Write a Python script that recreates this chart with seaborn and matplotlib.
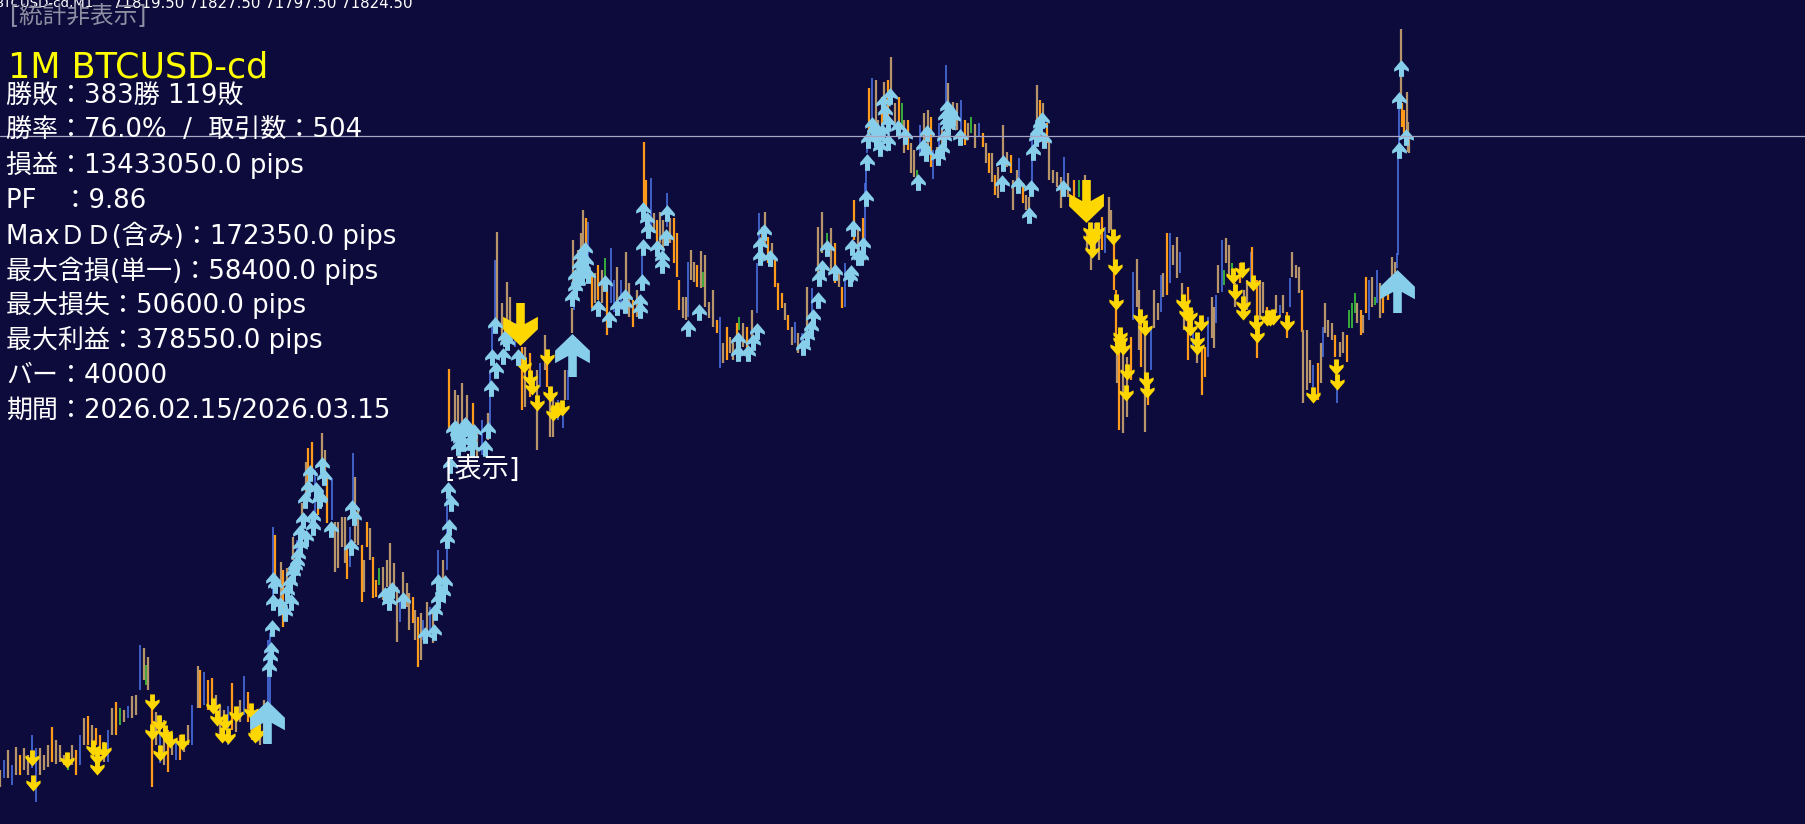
import pandas as pd
import matplotlib
matplotlib.use("Agg")
import matplotlib.pyplot as plt
from matplotlib.path import Path
import seaborn as sns

BAR_X = [0,4,8,12,16,20,24,28,32,36, 40,44,48,52,56,60,64,68,72,76,
 80,84,88,92,96,100,104,108,112,116, 120,124,128,132,136,140,144,146,148,152,
 156,160,164,168,172,176,180,184,188,192, 198,200,204,208,212,216,220,224,228,232,
 236,240,244,248,252,256,260,264,268,270, 273,275,281,283,287,293,297,302,306,308,
 312,315,318,322,325,327,332,335,338,342, 345,347,350,353,355,358,362,364,367,370,
 373,376,379,383,387,390,394,397,400,403, 407,409,413,415,418,421,423,427,430,433,
 438,443,447,449,455,458,462,467,473,477, 482,488,490,492,495,497,502,505,507,510,
 515,520,522,525,530,537,540,545,547,550, 553,558,563,565,568,572,574,573,578,581,
 583,586,588,592,595,598,602,605,607,611, 614,617,621,626,629,633,637,642,644,646,
 651,654,657,660,663,667,670,674,677,679, 683,686,688,691,694,697,701,703,705,709,
 713,717,720,723,727,730,733,737,739,743, 747,752,757,759,762,765,768,772,775,778,
 782,785,788,792,795,798,802,807,812,818, 822,827,831,835,839,842,845,850,854,858,
 863,865,866,867,869,872,876,878,882,884, 888,891,895,899,902,904,908,911,914,917,
 920,924,928,931,933,937,939,942,946,948, 953,957,961,965,968,971,975,979,983,986,
 989,992,995,998,1003,1007,1011,1013,1017,1019, 1023,1026,1029,1032,1037,1040,1043,1047,1049,1053,
 1057,1061,1064,1068,1074,1079,1085,1087,1091,1095, 1099,1102,1105,1109,1111,1114,1116,1117,1119,1123,
 1127,1131,1133,1137,1139,1141,1145,1148,1151,1154, 1158,1161,1163,1167,1170,1173,1177,1180,1182,1184,
 1188,1193,1197,1202,1205,1208,1212,1214,1216,1218, 1222,1224,1226,1229,1232,1235,1240,1244,1247,1251,
 1252,1257,1260,1263,1267,1272,1276,1280,1283,1287, 1290,1292,1296,1299,1302,1303,1307,1310,1313,1318,
 1321,1323,1325,1328,1332,1335,1337,1340,1343,1347, 1349,1352,1355,1357,1361,1363,1366,1369,1372,1375,
 1377,1380,1383,1388,1392,1395,1397,1398,1399,1401, 1402,1404,1407,1408,1409]

BAR_HIGH = [65480,65580,65680,65530,65710,65630,65700,65630,65830,65700,
 65700,65630,65730,65910,65780,65730,65630,65530,65730,65680,
 65830,66000,66020,65930,65900,65830,65760,65880,66100,66160,
 66100,66080,66120,66220,66230,66730,66700,66530,66610,66130,
 66060,66030,65980,65880,65830,65780,65830,65800,65930,66130,
 66520,66480,66460,66380,66400,66230,66130,66080,66120,66350,
 66080,66180,66420,66260,66130,66060,66000,66180,66780,66850,
 67910,67830,67560,67480,67500,67810,67780,68150,68560,68700,
 68760,68480,68280,68850,68680,68400,68400,67960,67960,68010,
 68010,67710,67910,68650,68410,68080,67730,67580,67960,67900,
 67610,67380,67500,67510,67580,67750,67550,67310,67180,67460,
 67350,67250,67210,67080,67010,67050,66980,67160,67110,67080,
 67680,67580,68310,69490,69280,69230,69350,69230,69150,68850,
 68980,69050,69450,69910,70580,70860,70150,69980,70360,70210,
 69950,69650,69710,69710,69650,69480,69550,69830,69580,69280,
 69210,69180,69150,69480,69480,70100,70330,70780,70680,70850,
 71080,71000,70960,70450,70450,70530,70480,70600,70310,70700,
 70380,70510,70380,70660,70350,70180,70280,70650,71760,71380,
 71400,71050,70980,71060,70980,71250,71000,71000,70850,70380,
 70210,70210,70560,70680,70560,70530,70670,70460,70630,70160,
 70280,69980,70010,69750,69910,69810,69750,69950,70010,69950,
 69910,70080,70550,71050,70910,71060,70810,70750,70580,70350,
 70250,70150,70030,69910,69960,69850,69850,70310,70300,70910,
 71060,70850,70900,70750,70450,70310,70550,70480,71180,70910,
 71000,71350,71610,71810,72300,72400,72380,71980,72210,72360,
 72380,72610,72150,72210,72150,71980,71980,71750,71680,71480,
 71930,72050,72080,72010,71680,71710,71950,71900,72530,72350,
 72160,72150,72180,71980,71950,72010,71940,71950,71850,71750,
 71650,71650,71430,71510,71930,71660,71630,71380,71480,71600,
 71350,71230,71210,71780,72330,72180,72150,71950,71780,71480,
 71460,71410,71610,71450,71380,71380,71430,70880,70780,70950,
 70950,71010,70910,71210,71080,70780,70280,69750,69680,69810,
 69610,69810,70460,70590,70280,70050,69910,69410,69910,70280,
 70150,70430,70450,70850,70850,70730,70810,70660,70350,70180,
 70310,69850,69810,69710,69710,70010,70210,70110,70230,70530,
 70780,70480,70800,70730,70550,70350,70550,70280,70380,70660,
 70710,70380,70380,70360,70110,70050,70230,70130,70230,70060,
 70400,70660,70530,70510,70280,69880,69880,69580,69530,69550,
 69750,69910,70150,69980,69950,69830,69580,69760,69860,69830,
 70080,70150,70250,70150,70080,70030,70410,70380,70410,70210,
 70480,70350,70250,70280,70610,70560,70650,71610,72180,72890,
 72150,72080,72260,71960,71850]

BAR_LOW = [65310,65400,65400,65330,65430,65430,65480,65430,65500,65160,
 65430,65480,65510,65560,65540,65560,65530,65480,65530,65430,
 65530,65730,65730,65700,65730,65630,65560,65560,65830,65830,
 65930,65960,66000,66000,66030,66280,66380,66330,66280,65310,
 65730,65550,65530,65460,65630,65580,65580,65660,65730,65730,
 66100,66100,66130,66080,66060,65960,65830,65780,65730,65880,
 65860,65960,66030,65960,65780,65760,65730,65750,66080,66130,
 67080,67410,67080,66910,67180,67580,67600,67730,68110,68280,
 68380,68050,68030,68480,68450,67950,67980,67460,67500,67710,
 67550,67390,67510,67980,67750,67730,67160,67260,67710,67580,
 67200,67210,67330,67180,67310,67210,67250,66760,66960,67180,
 67110,66880,66950,66780,66510,66580,66780,66850,66880,66750,
 67380,67350,67480,68880,68810,68750,68810,68880,68710,68610,
 68630,68780,68880,69550,69880,69910,69750,69710,69780,69780,
 69710,69510,69080,69110,69210,68680,69310,69480,69310,68810,
 68810,68980,68900,69180,69180,69850,70080,70330,70280,70480,
 70480,70530,70480,70100,70150,70180,70150,70410,69830,70150,
 70060,70150,70080,70150,70010,69910,70010,70280,71110,71080,
 70880,70850,70750,70750,70680,70910,70750,70550,70410,70080,
 70000,69980,70010,70380,70360,70310,70300,70310,70110,70000,
 69910,69850,69500,69550,69580,69650,69580,69710,69880,69710,
 69610,69750,70050,70650,70610,70750,70550,70510,70310,70080,
 70100,69980,69880,69730,69750,69650,69680,69850,70050,70450,
 70650,70610,70480,70350,70310,70100,70110,70310,70780,70650,
 70550,70710,71180,71650,71810,71850,71950,71780,71810,71980,
 72010,72150,71950,71810,71910,71650,71680,71450,71410,71350,
 71630,71680,71710,71510,71390,71550,71550,71680,72010,71980,
 71880,71880,71810,71730,71780,71850,71700,71810,71710,71550,
 71450,71360,71230,71200,71510,71510,71450,71080,71280,71380,
 71150,71080,71080,71350,71880,71950,71950,71750,71380,71350,
 71310,71100,71310,71210,71180,71210,71350,70680,70480,70680,
 70580,70680,70650,70850,70880,70280,69730,69350,68880,68850,
 69010,69380,69980,70110,69680,69510,68860,69130,69480,69900,
 69980,70060,70210,70230,70350,70530,70400,70450,70180,69880,
 69580,69710,69550,69230,69410,69610,69800,69700,69950,70250,
 70260,70330,70550,70410,70380,70110,70350,70010,70080,70310,
 70350,69600,69980,70050,70010,69980,70050,70010,70050,69800,
 70110,70410,70400,70250,69860,69150,69280,69350,69280,69180,
 69350,69610,69850,69810,69780,69610,69150,69610,69650,69560,
 69900,69900,70050,69950,69830,69850,70050,69980,70110,70130,
 70150,70000,70050,70180,70310,70450,70500,70630,71650,72180,
 71910,71850,71850,71660,71650]

# bar colour class: t mixed, b blue, o orange, g green
BAR_KIND = "".join("""
tbtbt ottbb  tttot ttgto  btoto otbto  gtbtt btgto  tbtot bottb
tobo ottt bo  ttboo tttbb  botot tbtto  obott obttt  tobbt totot
oogtt tttbt  ttoto tbtbt  btbot tttot  btbbb ttott  btoto tbtot
tbbtb tbttt  tobot otgob  btbtt otboo  btott btooo  ttbtt otgtt
tobto ttogt  otbbt totoo  ototb tbtbt  tgtot obtot  obbbo bttot
ottog totTg  bttob tbtbt  ttbot gtbot  otott totTb  ottbt ototT
ttbto gtttt  tobtt ootot  tobtt otobt  tbtob ttbtt  obtoo bttbt
bgttg tottb  oottO ttbto  btttO tttbO  tbttt obtto  gggto tobtg
btoot tbbbt  oottt
""".lower().split())

UP_X = [269,270,271,272,273,273,275,280,285,291,287,290,293,295,297,300,303,305,308,310,313,313,319,322,324,331,
 351,352,354,385,389,392,403,425,434,435,438,443,438,445,442,447,449,451,448,450,457,460,467,470,472,458,463,453,458,465,
 485,488,491,496,492,495,503,507,518,505,
 575,575,582,583,580,585,588,598,605,609,617,625,625,640,640,642,643,643,647,648,657,662,662,666,667,688,699,
 738,738,748,753,757,760,764,760,770,803,807,811,813,818,819,822,827,835,850,852,853,858,
 851,861,863,866,867,868,872,880,878,888,883,890,885,888,898,905,918,923,926,927,938,942,944,947,945,953,948,960,
 1003,1002,1018,1031,1029,1033,1037,1040,1063,1399,1406,1399,1401,
 462,455,470,474,578,572,579,586,874,876,882,947,950,1036,1042,1044,298,300,306,316,320]
UP_Y = [66500,66600,66680,66900,67160,67380,67330,67130,67050,67160,67260,67350,67450,67510,67550,67850,67980,68180,68300,68450,67910,68000,68180,68530,68410,67890,
 67710,68100,68010,67230,67160,67280,67180,66830,66860,67060,67180,67250,67360,67350,67260,67780,67910,68150,68280,68530,68850,68780,68910,68830,68700,68710,68750,68880,68800,68930,
 68700,68880,69300,69480,69610,69930,69620,69760,69610,69800,
 70300,70410,70410,70510,70610,70680,70430,70100,70350,69990,70110,70210,70130,70160,70080,70360,70710,71080,70980,70880,70700,70600,70530,70810,71050,69900,70060,
 69780,69650,69650,69760,69870,70610,70860,70730,70600,69710,69810,69900,70010,70180,70400,70500,70700,70460,70400,70710,70900,70610,
 70450,70610,70730,71200,71560,71780,71930,71700,71850,71760,72150,72220,72060,71950,71900,71820,71360,71710,71650,71850,71610,71680,71800,72100,72010,72000,71910,71810,
 71550,71350,71330,71300,71030,71660,71850,71930,71300,71680,71810,72180,72500,
 68860,68900,68760,68860,70360,70200,70520,70560,71880,71800,71860,71960,72060,71800,71980,71780,67620,67720,67800,68280,68200]

DOWN_X = [32,33,67,93,97,97,104,152,152,159,165,170,160,182,213,217,225,222,228,236,251,257,255,258,
 524,530,532,537,547,550,553,562,557,
 1090,1090,1097,1092,1093,1113,1115,1116,1120,1117,1123,1120,1127,1126,1140,1145,1146,1147,
 1183,1186,1190,1190,1197,1197,1201,1233,1242,1235,1243,1243,1253,1256,1257,1267,1270,1273,1287,1313,1336,1337]
DOWN_Y = [65600,65350,65580,65700,65610,65510,65680,66160,65860,65950,65850,65780,65650,65760,66120,66000,65960,65830,65820,66040,66070,65850,65830,65860,
 69530,69400,69310,69150,69610,69240,69050,69100,69080,
 70880,70800,70880,70680,70800,70810,70510,70160,69830,69710,69710,69780,69460,69250,70010,69900,69380,69280,
 70160,70050,70030,69900,69780,69710,69950,70420,70480,70260,70140,70060,70350,69950,69830,70000,70000,70010,69950,69230,69510,69360]

BIG_UP_X, BIG_UP_Y = [267, 572, 1397], [65965, 69635, 70270]
BIG_DOWN_X, BIG_DOWN_Y = [520, 1086], [69940, 71175]
LAST_CLOSE = 71824.5

HEADER_SYMBOL = "BTCUSD-cd,M1"
HEADER_VALUES = "71819.50 71827.50 71797.50 71824.50"
HIDE_LABEL = "[統計非表示]"
SHOW_LABEL = "[表示]"
TITLE = "1M BTCUSD-cd"
STATS = ["勝敗：383勝 119敗", "勝率：76.0%  /  取引数：504", "損益：13433050.0 pips", "PF　：9.86",
         "MaxＤＤ(含み)：172350.0 pips", "最大含損(単一)：58400.0 pips", "最大損失：50600.0 pips",
         "最大利益：378550.0 pips", "バー：40000", "期間：2026.02.15/2026.03.15"]

KIND_COLORS = {"t": "#B8946A", "b": "#4A6FE0", "o": "#FF9A1A", "g": "#3CC83C"}

n = len(BAR_X)
assert n == len(BAR_HIGH) == len(BAR_LOW), (n, len(BAR_HIGH), len(BAR_LOW))
kinds = (BAR_KIND + "t" * n)[:n]
bars = pd.DataFrame({"x": BAR_X, "high": BAR_HIGH, "low": BAR_LOW, "kind": list(kinds)})

sns.set_theme(style="dark")
plt.rcParams["font.family"] = ["DejaVu Sans", "Noto Sans CJK JP"]
BG = "#0D0B3B"
fig = plt.figure(figsize=(18.06, 8.24), dpi=100, facecolor=BG)
ax = fig.add_axes([0, 0, 1, 1], facecolor=BG)

for kind, group in bars.groupby("kind"):
    ax.vlines(group["x"], group["low"], group["high"], color=KIND_COLORS[kind],
              lw=1.6 if kind in "to" else 1.2, zorder=2)

def arrow_path(wing_out, wing_low, joint, half_w, stem):
    v = [(0, 1), (half_w, wing_out), (half_w, wing_low), (stem, joint), (stem, -1),
         (-stem, -1), (-stem, joint), (-half_w, wing_low), (-half_w, wing_out), (0, 1)]
    return Path(v, closed=True)

small_up = arrow_path(-0.02, -0.38, -0.12, 0.88, 0.30)
small_down = Path(small_up.vertices * [1, -1], closed=True)
big_up = arrow_path(0.22, -0.36, -0.02, 0.81, 0.20)
big_down = Path(big_up.vertices * [1, -1], closed=True)
SKY, GOLD = "#87CEEB", "#FFD700"

def arrows(xs, ys, path, size, color, z):
    sns.scatterplot(data=pd.DataFrame({"x": xs, "y": ys}), x="x", y="y", marker=path, s=size,
                    color=color, linewidth=0, ax=ax, zorder=z, legend=False)

arrows(DOWN_X, DOWN_Y, small_down, 135, GOLD, 3)
arrows(UP_X, UP_Y, small_up, 145, SKY, 3)
arrows(BIG_UP_X, BIG_UP_Y, big_up, 958, SKY, 4)
arrows(BIG_DOWN_X, BIG_DOWN_Y, big_down, 958, GOLD, 4)
ax.axhline(LAST_CLOSE, color="#A8A8C4", lw=0.9, zorder=5)

ax.set_xlim(0, 1806)
ax.set_ylim(64940, 73180)
ax.set_axis_off()

def label(px, py, s, size, color):
    fig.text(px / 1806, 1 - py / 824, s, fontsize=size, color=color, va="baseline", ha="left", zorder=10)

label(-5, 7.5, HEADER_SYMBOL, 9.6, "white")
label(113, 7.5, HEADER_VALUES, 10.8, "white")
label(10, 23, HIDE_LABEL, 17, "#8F8FA3")
label(8, 77, TITLE, 25.2, "#FFFF00")
for py, line in zip([104, 138, 173, 208, 244, 279, 313, 348, 383, 418], STATS):
    label(6, py, line, 18.7, "white")
label(445, 477, SHOW_LABEL, 19.5, "white")

fig.savefig("out.png", dpi=100, facecolor=BG)
